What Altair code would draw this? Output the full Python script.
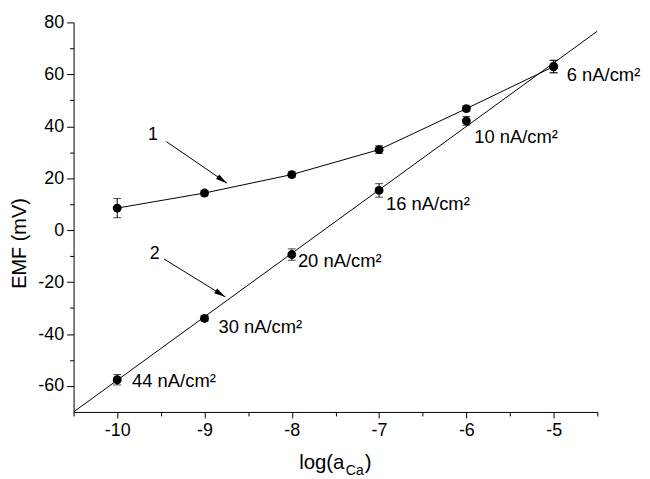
import altair as alt
import pandas as pd

# ---- data ----
log_a = [-10, -9, -8, -7, -6, -5]
emf_curve1 = [8.5, 14.3, 21.4, 31.0, 46.8, 63.0]
err_curve1 = [3.7, 1.0, 1.0, 1.5, 1.0, 2.4]
emf_curve2 = [-57.6, -34.0, -9.4, 15.3, 42.1, 63.0]
err_curve2 = [2.0, 1.0, 2.2, 2.6, 1.7, 2.4]

fit2_x = [-10.5, -4.5]
fit2_y = [-70.0, 76.6]

current_labels = ["44 nA/cm²", "30 nA/cm²", "20 nA/cm²", "16 nA/cm²", "10 nA/cm²", "6 nA/cm²"]
current_label_x = [-9.83, -8.84, -7.93, -6.92, -5.91, -4.85]
current_label_y = [-58.2, -37.4, -11.9, 10.1, 36.0, 59.6]

curve_ids = ["1", "2"]
curve_id_x = [-9.59, -9.57]
curve_id_y = [36.8, -9.2]
arrow_tail_x = [-9.437, -9.464]
arrow_tail_y = [34.1, -11.1]
arrow_tip_x = [-8.743, -8.761]
arrow_tip_y = [18.1, -25.7]
arrow_angle = [34.5, 31.7]

x_ticks = [-10.5, -10, -9.5, -9, -8.5, -8, -7.5, -7, -6.5, -6, -5.5, -5, -4.5]
y_ticks = [-60, -50, -40, -30, -20, -10, 0, 10, 20, 30, 40, 50, 60, 70, 80]

FONT = "Liberation Sans"

# ---- tables ----
c1 = pd.DataFrame({"x": log_a, "y": emf_curve1,
                   "lo": [v - e for v, e in zip(emf_curve1, err_curve1)],
                   "hi": [v + e for v, e in zip(emf_curve1, err_curve1)]})
c2 = pd.DataFrame({"x": log_a, "y": emf_curve2,
                   "lo": [v - e for v, e in zip(emf_curve2, err_curve2)],
                   "hi": [v + e for v, e in zip(emf_curve2, err_curve2)]})
pts = pd.concat([c1, c2], ignore_index=True)
fit = pd.DataFrame({"x": fit2_x, "y": fit2_y})
lab = pd.DataFrame({"x": current_label_x, "y": current_label_y, "t": current_labels})
ids = pd.DataFrame({"x": curve_id_x, "y": curve_id_y, "t": curve_ids})
shaft = pd.DataFrame({
    "id": curve_ids + curve_ids,
    "x": arrow_tail_x + arrow_tip_x,
    "y": arrow_tail_y + arrow_tip_y,
    "o": [0, 0, 1, 1],
})
heads = pd.DataFrame({"x": arrow_tip_x, "y": arrow_tip_y, "a": arrow_angle})

xs = alt.Scale(domain=[-10.5, -4.5], nice=False, zero=False)
ys = alt.Scale(domain=[-70, 80], nice=False, zero=False)

x_axis = alt.Axis(
    values=x_ticks,
    labelExpr="datum.value % 1 === 0 ? '' + datum.value : ''",
    tickSize={"condition": {"test": "datum.value % 1 === 0", "value": 6}, "value": 4},
    grid=False, domainColor="black", tickColor="black", labelColor="black",
    labelFont=FONT, labelFontSize=18, labelPadding=4, title=None,
)
y_axis = alt.Axis(
    values=y_ticks,
    labelExpr="datum.value % 20 === 0 ? '' + datum.value : ''",
    tickSize={"condition": {"test": "datum.value % 20 === 0", "value": 7}, "value": 4},
    grid=False, domainColor="black", tickColor="black", labelColor="black",
    labelFont=FONT, labelFontSize=18, labelPadding=3,
    title="EMF  (mV)", titleFont=FONT, titleFontSize=20, titleFontWeight="normal",
    titleColor="black", titleX=-54, titleY=222, titleAngle=-90,
    titleAlign="center", titleBaseline="middle",
)


def X(field):
    return alt.X(field, scale=xs, axis=x_axis)


def Y(field):
    return alt.Y(field, scale=ys, axis=y_axis)


line1 = alt.Chart(c1).mark_line(color="black", strokeWidth=1).encode(
    x=X("x:Q"), y=Y("y:Q"),
)
line2 = alt.Chart(fit).mark_line(color="black", strokeWidth=1).encode(
    x=X("x:Q"), y=Y("y:Q"),
)
err_rule = alt.Chart(pts).mark_rule(color="black", strokeWidth=1).encode(
    x=X("x:Q"), y=Y("lo:Q"), y2="hi:Q",
)
cap_lo = alt.Chart(pts).mark_tick(color="black", orient="horizontal", size=8, thickness=1).encode(
    x=X("x:Q"), y=Y("lo:Q"),
)
cap_hi = alt.Chart(pts).mark_tick(color="black", orient="horizontal", size=8, thickness=1).encode(
    x=X("x:Q"), y=Y("hi:Q"),
)
dots = alt.Chart(pts).mark_circle(color="black", size=80, opacity=1).encode(
    x=X("x:Q"), y=Y("y:Q"),
)
labels = alt.Chart(lab).mark_text(align="left", baseline="middle", font=FONT,
                                  fontSize=18.5, color="black").encode(
    x=X("x:Q"), y=Y("y:Q"), text="t:N",
)
id_text = alt.Chart(ids).mark_text(align="center", baseline="middle", font=FONT,
                                   fontSize=18, color="black").encode(
    x=X("x:Q"), y=Y("y:Q"), text="t:N",
)
arrow_shaft = alt.Chart(shaft).mark_line(color="black", strokeWidth=1).encode(
    x=X("x:Q"), y=Y("y:Q"), detail="id:N", order="o:Q",
)
arrow_head = alt.Chart(heads).mark_point(
    shape="M0,0 L-2,-0.5 L-2,0.5 Z", filled=True, color="black", size=130, opacity=1
).encode(
    x=X("x:Q"), y=Y("y:Q"), angle=alt.Angle("a:Q", scale=None),
)

# x-axis title with subscript
xt_main = alt.Chart(pd.DataFrame({"t": ["log(a"]})).mark_text(
    align="left", baseline="alphabetic", font=FONT, fontSize=20.5, color="black"
).encode(x=alt.value(227), y=alt.value(449), text="t:N")
xt_sub = alt.Chart(pd.DataFrame({"t": ["Ca"]})).mark_text(
    align="left", baseline="alphabetic", font=FONT, fontSize=14, color="black"
).encode(x=alt.value(274), y=alt.value(455), text="t:N")
xt_close = alt.Chart(pd.DataFrame({"t": [")"]})).mark_text(
    align="left", baseline="alphabetic", font=FONT, fontSize=20.5, color="black"
).encode(x=alt.value(293), y=alt.value(449), text="t:N")

chart = alt.layer(
    line1, line2, arrow_shaft, arrow_head, err_rule, cap_lo, cap_hi, dots,
    labels, id_text, xt_main, xt_sub, xt_close,
).properties(
    width=527, height=392,
    autosize=alt.AutoSizeParams(type="none"),
    padding={"left": 66, "top": 13, "right": 45, "bottom": 68},
).configure_view(stroke=None).configure_axis(domainWidth=1, tickWidth=1)

chart.save("out.html", embed_options={"renderer": "svg", "actions": False})
